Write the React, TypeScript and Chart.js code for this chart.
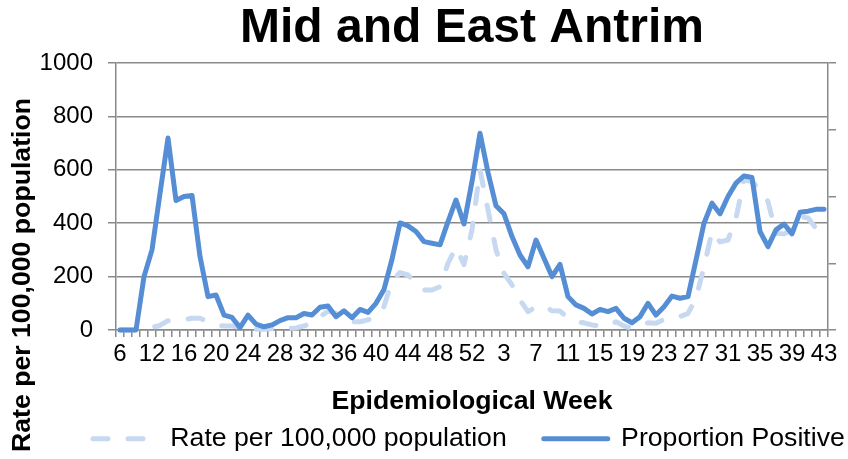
import React, { useEffect, useRef } from 'react';
import { Chart, registerables } from 'chart.js';

Chart.register(...registerables);

// Epidemiological weeks (2020: 6, 9..53 ; 2021: 1..43)
const weekLabels = [
  '6', '9', '10', '11', '12', '13', '14', '15', '16', '17', '18', '19', '20', '21', '22', '23',
  '24', '25', '26', '27', '28', '29', '30', '31', '32', '33', '34', '35', '36', '37', '38', '39',
  '40', '41', '42', '43', '44', '45', '46', '47', '48', '49', '50', '51', '52', '53',
  '1', '2', '3', '4', '5', '6', '7', '8', '9', '10', '11', '12', '13', '14', '15', '16', '17',
  '18', '19', '20', '21', '22', '23', '24', '25', '26', '27', '28', '29', '30', '31', '32', '33',
  '34', '35', '36', '37', '38', '39', '40', '41', '42', '43',
];

const ratePer100k = [
  0, 0, 0, 5, 10, 17, 35, 37, 38, 44, 44, 31, 19, 15, 15, 10, 6, 3, 3, 5,
  5, 5, 8, 15, 27, 50, 71, 62, 44, 31, 31, 38, 50, 88, 185, 215, 206, 175, 150, 150,
  162, 250, 310, 245, 375, 600, 450, 300, 212, 169, 112, 69, 87, 90, 72, 71, 45, 31, 27, 19,
  15, 15, 31, 15, 6, 15, 27, 25, 40, 44, 50, 62, 119, 237, 369, 330, 337, 419, 562, 556,
  525, 481, 362, 360, 375, 425, 420, 381, 347,
];

const proportionPositive = [
  0, 0, 0, 200, 300, 512, 719, 485, 500, 504, 275, 125, 131, 56, 47, 9, 56, 22, 12, 19,
  35, 46, 46, 62, 56, 85, 90, 50, 72, 46, 77, 66, 100, 152, 265, 401, 390, 369, 331, 325,
  319, 406, 487, 397, 556, 737, 590, 465, 435, 350, 281, 237, 337, 269, 200, 246, 125, 94, 81, 60,
  77, 69, 81, 44, 27, 50, 100, 56, 87, 127, 119, 125, 262, 400, 475, 435, 500, 550, 577, 571,
  369, 312, 375, 397, 360, 441, 445, 452, 452,
];

const yTickValues = [0, 200, 400, 600, 800, 1000];

const FONT = "'Liberation Sans', Arial, Helvetica, sans-serif";
const GRID = '#8a8a8a';
const LEGEND_PAD = 37;

export default function App() {
  const ref = useRef<HTMLCanvasElement>(null);

  useEffect(() => {
    const canvas = ref.current;
    if (!canvas) return;

    const customPlugin = {
      id: 'customTitles',
      afterLayout(chart: any) {
        const lg = chart.legend;
        if (lg) {
          const dx = 93 - (lg.left + LEGEND_PAD);
          lg.left += dx;
          lg.right += dx;
          lg.top += 3;
          lg.bottom += 3;
        }
      },
      afterDraw(chart: any) {
        const c = chart.ctx;
        const area = chart.chartArea;
        c.save();
        c.fillStyle = '#000';
        c.font = `bold 26.67px ${FONT}`;
        c.textAlign = 'center';
        c.textBaseline = 'alphabetic';
        c.fillText('Epidemiological Week', (area.left + area.right) / 2, 409);
        c.translate(30, 275);
        c.rotate(-Math.PI / 2);
        c.fillText('Rate per 100,000 population', 0, 0);
        c.restore();
      },
    };

    const chart = new Chart(canvas, {
      type: 'line',
      data: {
        labels: weekLabels,
        datasets: [
          {
            label: 'Rate per 100,000 population',
            data: ratePer100k,
            borderColor: '#C6D9F1',
            backgroundColor: '#C6D9F1',
            borderWidth: 5,
            borderDash: [15, 20],
            borderCapStyle: 'round',
            borderJoinStyle: 'round',
            pointRadius: 0,
            pointHoverRadius: 0,
            tension: 0,
            order: 1,
            clip: false,
            yAxisID: 'y',
          },
          {
            label: 'Proportion Positive',
            data: proportionPositive,
            borderColor: '#558ED5',
            backgroundColor: '#558ED5',
            borderWidth: 5,
            borderCapStyle: 'round',
            borderJoinStyle: 'round',
            pointRadius: 0,
            pointHoverRadius: 0,
            tension: 0,
            order: 0,
            clip: false,
            yAxisID: 'y',
          },
        ],
      } as any,
      options: {
        responsive: false,
        maintainAspectRatio: false,
        animation: false,
        layout: { padding: 0 },
        plugins: {
          title: {
            display: true,
            text: 'Mid and East Antrim',
            fullSize: false,
            color: '#000',
            font: { family: FONT, size: 48, weight: 'bold' },
            padding: { top: 0, bottom: 5.4 },
          },
          legend: {
            display: true,
            position: 'bottom',
            align: 'start',
            labels: {
              usePointStyle: true,
              pointStyle: 'line',
              pointStyleWidth: 64,
              color: '#000',
              padding: LEGEND_PAD,
              font: { family: FONT, size: 26.67 },
              sort: (a: any, b: any) => a.datasetIndex - b.datasetIndex,
              generateLabels: (ch: any) => {
                const items = (Chart.defaults as any).plugins.legend.labels.generateLabels(ch);
                return items.map((it: any) => {
                  const ds = ch.data.datasets[it.datasetIndex];
                  return {
                    ...it,
                    pointStyle: 'line',
                    lineDash: ds.borderDash || [],
                    lineCap: 'round',
                    lineWidth: 5,
                    strokeStyle: ds.borderColor,
                    fillStyle: ds.borderColor,
                  };
                });
              },
            },
          },
          tooltip: { enabled: false },
        },
        scales: {
          x: {
            offset: true,
            afterFit: (scale: any) => {
              scale.height = 129 - (26.67 + 10 + LEGEND_PAD);
            },
            grid: {
              display: true,
              drawOnChartArea: false,
              drawTicks: true,
              tickLength: 7,
              offset: true,
              color: GRID,
              lineWidth: 1.5,
            },
            border: { display: true, color: GRID, width: 1.5 },
            ticks: {
              autoSkip: false,
              maxRotation: 0,
              minRotation: 0,
              padding: 3,
              color: '#000',
              font: { family: FONT, size: 24 },
              callback: (_v: any, i: number) => (i % 4 === 0 ? weekLabels[i] : ''),
            },
          },
          y: {
            position: 'left',
            min: 0,
            max: 1000,
            afterFit: (scale: any) => {
              scale.width = 116;
            },
            afterBuildTicks: (scale: any) => {
              scale.ticks = yTickValues.map((v) => ({ value: v }));
            },
            grid: {
              color: GRID,
              lineWidth: 1.5,
              drawTicks: true,
              tickLength: 8,
            },
            border: { display: true, color: GRID, width: 1.5 },
            ticks: {
              padding: 15,
              color: '#000',
              font: { family: FONT, size: 24 },
              callback: (v: any) => String(v),
            },
          },
          y2: {
            position: 'right',
            min: 0,
            max: 1,
            afterFit: (scale: any) => {
              scale.width = 20;
            },
            grid: {
              drawOnChartArea: false,
              drawTicks: true,
              tickLength: 8,
              color: GRID,
              lineWidth: 1.5,
            },
            border: { display: true, color: GRID, width: 1.5 },
            ticks: { display: false, stepSize: 0.25 },
          },
        },
      } as any,
      plugins: [customPlugin],
    });

    return () => chart.destroy();
  }, []);

  return (
    <div style={{ position: 'absolute', left: 0, top: 0, width: 848, height: 459, background: '#fff' }}>
      <canvas ref={ref} width={848} height={459} style={{ display: 'block' }} />
    </div>
  );
}
